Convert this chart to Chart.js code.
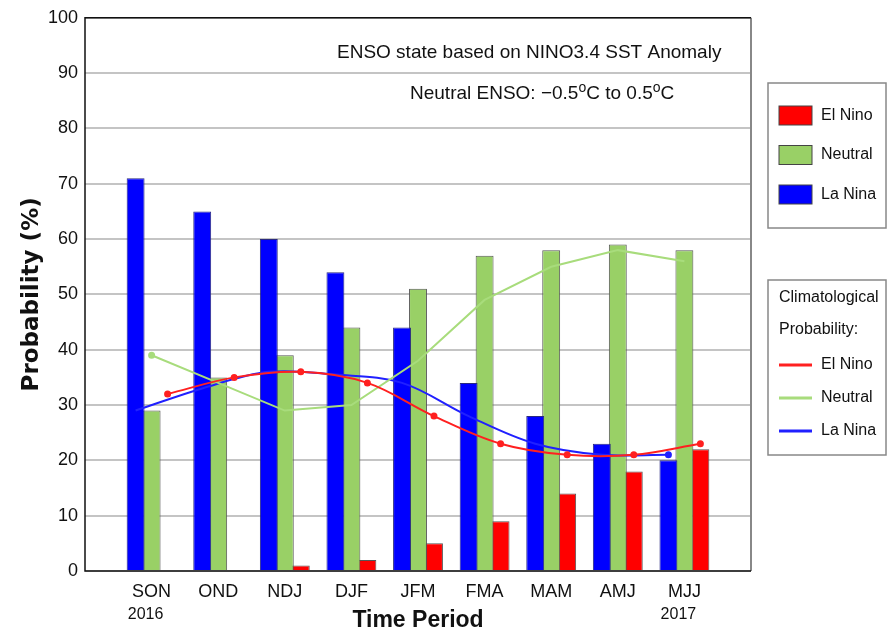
<!DOCTYPE html>
<html>
<head>
<meta charset="utf-8">
<script src="https://cdn.jsdelivr.net/npm/chart.js@4.4.0/dist/chart.umd.min.js"></script>
<style>
  html, body { margin: 0; padding: 0; background: #fff; }
  #wrap { width: 889px; height: 630px; }
</style>
</head>
<body>
<div id="wrap"><canvas id="chart"></canvas></div>
<script>
// ======================
// DATA
// ======================
const periods = ["SON", "OND", "NDJ", "DJF", "JFM", "FMA", "MAM", "AMJ", "MJJ"];
const yearLabels = ["2016", "", "", "", "", "", "", "", "2017"];

// forecast probabilities (%)
const laNina  = [71, 65, 60, 54, 44, 34, 28, 23, 20];
const neutral = [29, 35, 39, 44, 51, 57, 58, 59, 58];
const elNino  = [0, 0, 1, 2, 5, 9, 14, 18, 22];

// climatological probabilities (%)
const climElNino  = [32, 35, 36, 34, 28, 23, 21, 21, 23];
const climNeutral = [39, 34, 29, 30, 38, 49, 55, 58, 56];
const climLaNina  = [29, 33, 36, 35.5, 34, 28, 23, 21, 21];

const noteLine1 = "ENSO state based on NINO3.4 SST Anomaly";
const noteLine2 = [["Neutral ENSO: \u22120.5"], ["o", true], ["C to 0.5"], ["o", true], ["C"]];

// ======================
// STYLE
// ======================
const FONT = "'Liberation Sans', Arial, sans-serif";
const CAT_PCT = 0.72;          // share of one category used by the 3 bars
const SLOT = CAT_PCT / 3;      // one bar slot, in x units
const BLUE = "#0000ff", GREEN = "#99d066", RED = "#ff0000";

Chart.defaults.font.family = FONT;
Chart.defaults.color = "#111";

const toXY = (arr, shift) => arr.map((v, i) => ({ x: i + shift, y: v }));

// ======================
// PLUGINS
// ======================
const framePlugin = {
  id: "frame",
  afterDatasetsDraw(chart) {
    const { ctx, chartArea: a } = chart;
    ctx.save();
    ctx.lineWidth = 2;
    ctx.strokeStyle = "#888";
    ctx.beginPath();
    ctx.moveTo(a.right, a.top);
    ctx.lineTo(a.right, a.bottom);
    ctx.stroke();
    ctx.strokeStyle = "#111";
    ctx.lineWidth = 1.5;
    ctx.beginPath();
    ctx.moveTo(a.right, a.top);
    ctx.lineTo(a.left, a.top);
    ctx.lineTo(a.left, a.bottom);
    ctx.lineTo(a.right, a.bottom);
    ctx.stroke();
    ctx.restore();
  }
};

const textPlugin = {
  id: "notes",
  afterDraw(chart) {
    const { ctx } = chart;
    const xs = chart.scales.x;
    ctx.save();
    ctx.fillStyle = "#111";
    ctx.textBaseline = "middle";

    // year under first / last period
    ctx.font = `16px ${FONT}`;
    ctx.textAlign = "center";
    yearLabels.forEach((y, i) => {
      if (y) ctx.fillText(y, xs.getPixelForValue(i) - 6, 615);
    });

    // notes in the plot
    ctx.textAlign = "left";
    ctx.font = `19px ${FONT}`;
    ctx.fillText(noteLine1, 337, 53);
    let x = 410;
    noteLine2.forEach(([t, sup]) => {
      ctx.font = sup ? `14px ${FONT}` : `19px ${FONT}`;
      ctx.fillText(t, x, sup ? 88 : 94);
      x += ctx.measureText(t).width;
    });
    ctx.restore();
  }
};

const legendPlugin = {
  id: "boxes",
  afterDraw(chart) {
    const { ctx } = chart;
    const sets = chart.data.datasets;
    const bars = sets.filter(d => d.type !== "line").reverse();
    const lines = sets.filter(d => d.type === "line");
    ctx.save();
    ctx.textBaseline = "middle";
    ctx.textAlign = "left";
    ctx.font = `16px ${FONT}`;

    ctx.strokeStyle = "#888";
    ctx.lineWidth = 1.5;
    ctx.strokeRect(768, 83, 118, 145);
    bars.forEach((d, i) => {
      const cy = 115.5 + i * 39.5;
      ctx.fillStyle = d.backgroundColor;
      ctx.fillRect(779, cy - 9.5, 33, 19);
      ctx.strokeStyle = "#444";
      ctx.lineWidth = 1;
      ctx.strokeRect(779, cy - 9.5, 33, 19);
      ctx.fillStyle = "#111";
      ctx.fillText(d.label, 821, cy);
    });

    ctx.strokeStyle = "#888";
    ctx.lineWidth = 1.5;
    ctx.strokeRect(768, 280, 118, 175);
    ctx.fillStyle = "#111";
    ctx.fillText("Climatological", 779, 298);
    ctx.fillText("Probability:", 779, 330);
    lines.forEach((d, i) => {
      const cy = 365 + i * 33;
      ctx.strokeStyle = d.borderColor;
      ctx.lineWidth = 3;
      ctx.beginPath();
      ctx.moveTo(779, cy);
      ctx.lineTo(812, cy);
      ctx.stroke();
      ctx.fillStyle = "#111";
      ctx.fillText(d.label, 821, cy);
    });
    ctx.restore();
  }
};

// ======================
// CHART
// ======================
new Chart(document.getElementById("chart"), {
  type: "bar",
  data: {
    datasets: [
      {
        type: "line", label: "El Nino", data: toXY(climElNino, SLOT),
        borderColor: "#ff2020", backgroundColor: "#ff2020", borderWidth: 2,
        pointRadius: 2.5, pointHoverRadius: 0, tension: 0.35, fill: false, order: 0
      },
      {
        type: "line", label: "Neutral", data: toXY(climNeutral, 0),
        borderColor: "#a8dc7c", backgroundColor: "#a8dc7c", borderWidth: 2,
        pointRadius: c => (c.dataIndex === 0 ? 2.5 : 0), tension: 0, fill: false, order: 0
      },
      {
        type: "line", label: "La Nina", data: toXY(climLaNina, -SLOT),
        borderColor: "#2020ff", backgroundColor: "#2020ff", borderWidth: 2,
        pointRadius: c => (c.dataIndex === climLaNina.length - 1 ? 2.5 : 0),
        tension: 0.35, fill: false, order: 0
      },
      { label: "La Nina", data: toXY(laNina, 0), backgroundColor: BLUE, borderColor: "#2a2a80", order: 1 },
      { label: "Neutral", data: toXY(neutral, 0), backgroundColor: GREEN, borderColor: "#555", order: 2 },
      { label: "El Nino", data: toXY(elNino, 0), backgroundColor: RED, borderColor: "#555", order: 3 }
    ]
  },
  options: {
    responsive: true,
    maintainAspectRatio: false,
    animation: false,
    layout: { padding: { top: 14, right: 138, left: 0, bottom: 0 } },
    datasets: {
      bar: { categoryPercentage: CAT_PCT, barPercentage: 1.12, borderWidth: 1 }
    },
    plugins: { legend: { display: false }, tooltip: { enabled: false } },
    scales: {
      x: {
        type: "linear", min: -1, max: 9, offset: false,
        grid: { display: false, drawTicks: false },
        border: { display: false },
        ticks: {
          stepSize: 1, autoSkip: false, maxRotation: 0, padding: 10,
          font: { size: 18 }, color: "#111",
          callback: v => periods[v] ?? ""
        },
        title: {
          display: true, text: "Time Period", color: "#111", padding: 0,
          font: { size: 23, weight: "bold", lineHeight: 0.85 }
        },
        afterFit: s => { s.height = 59; }
      },
      y: {
        min: 0, max: 100,
        grid: { color: "#c4c4c4", lineWidth: 2, drawTicks: false },
        border: { display: false },
        ticks: { stepSize: 10, padding: 7, font: { size: 18 }, color: "#111" },
        title: {
          display: true, text: "Probability (%)", color: "#111",
          font: { family: "'DejaVu Sans', sans-serif", size: 23, weight: "bold" },
          padding: { top: 18, bottom: 0 }
        },
        afterFit: s => { s.width = 85; }
      }
    }
  },
  plugins: [framePlugin, textPlugin, legendPlugin]
});
</script>
</body>
</html>
